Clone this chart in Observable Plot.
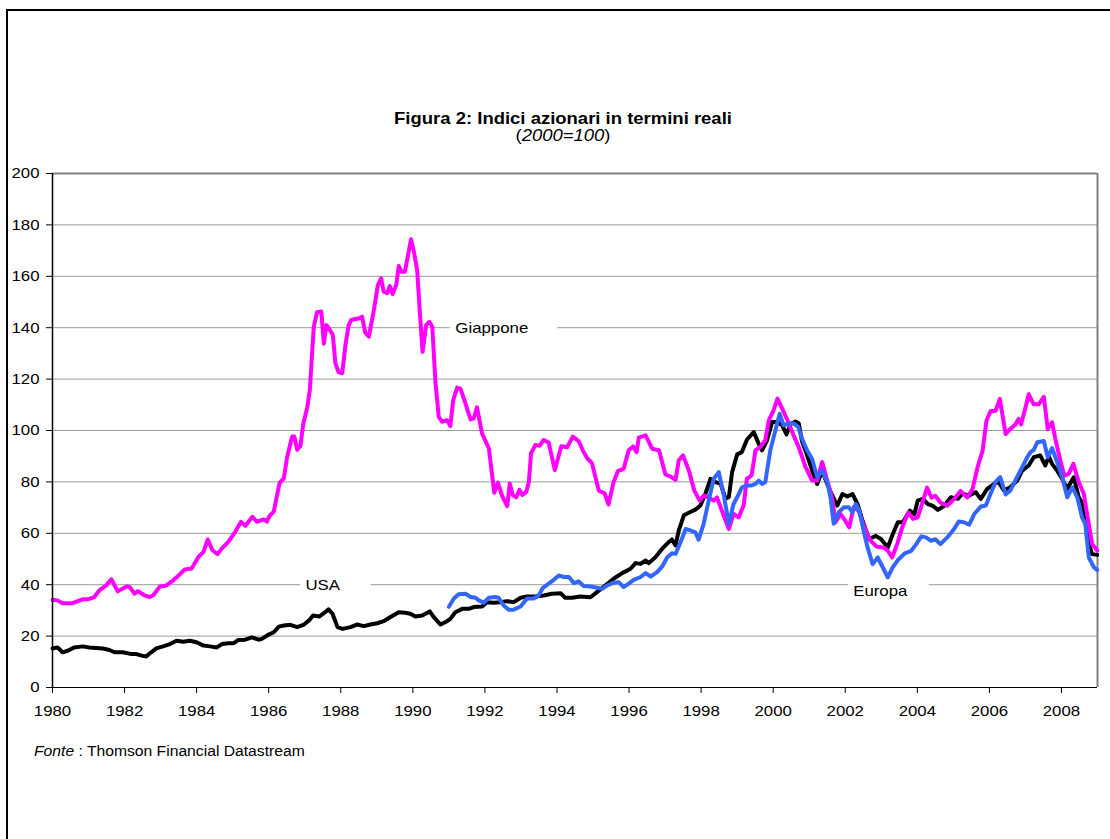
<!DOCTYPE html>
<html>
<head>
<meta charset="utf-8">
<script src="https://cdn.jsdelivr.net/npm/d3@7"></script>
<script src="https://cdn.jsdelivr.net/npm/@observablehq/plot@0.6"></script>
<style>
  html, body { margin: 0; padding: 0; background: #fff; }
  #page { position: relative; width: 1110px; height: 839px; overflow: hidden; font-family: "Liberation Sans", Arial, sans-serif; color: #000; }
  #frame { position: absolute; left: 6px; top: 9px; width: 1200px; height: 900px; border-top: 2px solid #000; border-left: 2px solid #000; }
  #chart { position: absolute; left: 0; top: 0; }
  .title { position: absolute; left: 563px; white-space: nowrap; line-height: 1; transform: translateX(-50%) scaleX(1.12); }
  #t1 { top: 110px; font-size: 16.5px; font-weight: bold; }
  #t2 { top: 127px; font-size: 16.5px; }
  #cap { position: absolute; left: 34px; top: 744px; font-size: 14px; line-height: 1; white-space: nowrap; transform-origin: 0 0; transform: scaleX(1.12); }
</style>
</head>
<body>
<div id="page">
  <div id="frame"></div>
  <div id="chart"></div>
  <div class="title" id="t1">Figura 2: Indici azionari in termini reali</div>
  <div class="title" id="t2">(<i>2000=100</i>)</div>
  <div id="cap"><i>Fonte</i> : Thomson Financial Datastream</div>
</div>
<script>
// ---- data: [year, index] (2000 = 100) ----
const giappone = [[1980.00,34.1],[1980.14,33.9],[1980.28,32.8],[1980.56,32.8],[1980.70,33.6],[1980.84,34.3],[1980.98,34.3],[1981.16,35.2],[1981.30,37.8],[1981.49,39.7],[1981.63,42.1],[1981.81,37.4],[1982.05,39.3],[1982.14,39.1],[1982.28,36.5],[1982.37,37.5],[1982.56,35.8],[1982.70,35.2],[1982.79,35.8],[1982.98,39.3],[1983.16,39.7],[1983.35,41.7],[1983.53,44.0],[1983.67,45.9],[1983.86,46.3],[1984.05,50.8],[1984.19,52.8],[1984.31,57.6],[1984.44,53.4],[1984.58,51.9],[1984.70,54.1],[1984.88,56.7],[1985.07,60.6],[1985.23,64.5],[1985.35,62.9],[1985.55,66.4],[1985.67,64.5],[1985.86,65.4],[1985.95,64.5],[1986.02,66.7],[1986.14,68.4],[1986.30,79.5],[1986.42,81.4],[1986.51,89.6],[1986.65,97.7],[1986.71,97.7],[1986.79,92.5],[1986.88,94.0],[1986.96,102.6],[1987.07,109.0],[1987.14,115.6],[1987.25,140.2],[1987.34,146.0],[1987.46,146.3],[1987.53,133.8],[1987.60,141.0],[1987.67,139.8],[1987.78,137.2],[1987.85,126.2],[1987.94,122.6],[1988.04,122.3],[1988.13,133.3],[1988.22,141.0],[1988.29,143.0],[1988.41,143.4],[1988.50,143.6],[1988.59,144.3],[1988.68,138.1],[1988.78,136.5],[1988.92,146.9],[1989.03,156.6],[1989.12,159.2],[1989.19,154.0],[1989.29,153.4],[1989.36,156.2],[1989.44,153.1],[1989.54,156.6],[1989.61,164.0],[1989.68,161.8],[1989.78,161.8],[1989.84,166.3],[1989.95,174.4],[1990.02,170.2],[1990.12,162.4],[1990.19,146.9],[1990.27,130.6],[1990.37,141.0],[1990.46,142.3],[1990.54,140.3],[1990.63,118.3],[1990.72,105.3],[1990.81,103.4],[1990.95,104.0],[1991.04,101.7],[1991.12,111.8],[1991.23,116.7],[1991.32,116.3],[1991.43,111.8],[1991.60,104.3],[1991.69,104.7],[1991.78,109.0],[1991.92,98.9],[1992.11,93.0],[1992.26,75.8],[1992.36,79.7],[1992.48,74.5],[1992.62,70.6],[1992.69,79.4],[1992.77,74.9],[1992.87,74.0],[1992.96,76.9],[1993.04,74.9],[1993.15,76.2],[1993.22,80.1],[1993.28,91.1],[1993.40,94.4],[1993.52,94.1],[1993.63,96.3],[1993.77,95.3],[1993.94,84.6],[1994.12,93.9],[1994.28,93.5],[1994.44,97.6],[1994.60,95.9],[1994.74,91.6],[1994.85,89.0],[1994.97,87.3],[1995.16,76.6],[1995.32,75.6],[1995.43,71.2],[1995.57,79.9],[1995.69,84.2],[1995.85,85.1],[1995.99,92.3],[1996.11,93.8],[1996.21,91.6],[1996.27,97.2],[1996.46,98.1],[1996.64,92.9],[1996.83,92.3],[1997.01,82.9],[1997.15,82.1],[1997.29,80.8],[1997.38,88.4],[1997.50,90.3],[1997.66,84.4],[1997.81,76.6],[1997.96,72.7],[1998.07,74.7],[1998.21,74.0],[1998.35,72.7],[1998.44,74.0],[1998.61,67.5],[1998.77,61.7],[1998.90,67.5],[1999.04,66.2],[1999.18,70.8],[1999.27,81.2],[1999.40,82.5],[1999.51,92.3],[1999.65,93.6],[1999.78,96.2],[1999.88,104.0],[2000.01,107.8],[2000.12,112.4],[2000.25,108.5],[2000.39,104.2],[2000.57,98.0],[2000.71,93.5],[2000.89,86.0],[2001.08,80.5],[2001.22,80.5],[2001.36,87.7],[2001.50,80.5],[2001.64,73.4],[2001.73,64.3],[2001.87,67.5],[2002.00,64.9],[2002.11,62.3],[2002.23,70.1],[2002.37,68.8],[2002.51,63.0],[2002.70,57.1],[2002.88,54.8],[2003.07,54.5],[2003.18,53.2],[2003.30,50.6],[2003.44,55.8],[2003.58,62.3],[2003.75,68.1],[2003.88,65.6],[2004.01,66.2],[2004.13,71.4],[2004.27,77.8],[2004.39,73.9],[2004.50,74.6],[2004.64,72.0],[2004.83,70.7],[2005.02,73.3],[2005.20,76.5],[2005.39,73.9],[2005.53,77.2],[2005.67,85.6],[2005.81,92.1],[2005.92,103.9],[2006.03,107.5],[2006.17,107.7],[2006.29,112.3],[2006.45,98.6],[2006.58,100.6],[2006.72,102.3],[2006.81,104.5],[2006.88,102.4],[2007.00,108.9],[2007.09,114.1],[2007.23,110.2],[2007.37,110.2],[2007.51,113.1],[2007.62,100.5],[2007.74,103.2],[2007.83,96.7],[2007.97,88.3],[2008.08,82.4],[2008.20,83.1],[2008.33,87.0],[2008.48,79.9],[2008.62,75.4],[2008.71,67.6],[2008.85,55.9],[2008.99,53.3]];

const usa = [[1980.00,15.2],[1980.14,15.6],[1980.28,13.7],[1980.42,14.3],[1980.60,15.6],[1980.84,16.0],[1981.02,15.6],[1981.21,15.4],[1981.40,15.2],[1981.58,14.6],[1981.72,13.7],[1981.95,13.7],[1982.19,13.0],[1982.33,13.0],[1982.47,12.4],[1982.60,12.1],[1982.74,13.7],[1982.88,15.2],[1983.07,16.0],[1983.26,16.9],[1983.44,18.2],[1983.63,17.8],[1983.81,18.2],[1984.00,17.6],[1984.19,16.3],[1984.37,16.0],[1984.56,15.6],[1984.70,16.9],[1984.88,17.2],[1985.02,17.2],[1985.16,18.5],[1985.35,18.6],[1985.53,19.5],[1985.72,18.6],[1985.81,18.9],[1986.00,20.6],[1986.14,21.5],[1986.28,23.7],[1986.42,24.1],[1986.60,24.4],[1986.79,23.5],[1986.98,24.5],[1987.12,26.1],[1987.23,28.0],[1987.40,27.6],[1987.53,28.9],[1987.66,30.4],[1987.77,28.7],[1987.91,23.5],[1988.05,22.8],[1988.27,23.5],[1988.45,24.5],[1988.64,23.9],[1988.82,24.5],[1989.01,25.0],[1989.19,25.8],[1989.38,27.4],[1989.61,29.3],[1989.79,29.1],[1989.93,28.7],[1990.07,27.6],[1990.26,28.0],[1990.47,29.6],[1990.58,27.4],[1990.77,24.5],[1990.95,25.8],[1991.04,26.7],[1991.18,29.3],[1991.37,30.6],[1991.55,30.6],[1991.69,31.3],[1991.92,31.5],[1992.06,33.2],[1992.24,33.0],[1992.43,33.2],[1992.61,33.6],[1992.80,33.2],[1992.99,34.9],[1993.17,35.4],[1993.40,35.4],[1993.63,35.8],[1993.86,36.5],[1994.10,36.7],[1994.23,34.9],[1994.42,34.9],[1994.65,35.4],[1994.93,35.1],[1995.11,37.1],[1995.34,39.7],[1995.57,42.3],[1995.81,44.5],[1996.04,46.2],[1996.18,48.4],[1996.32,48.1],[1996.46,49.4],[1996.55,48.4],[1996.73,50.7],[1996.92,54.0],[1997.10,56.6],[1997.19,57.6],[1997.29,55.3],[1997.38,61.1],[1997.52,67.0],[1997.70,68.3],[1997.84,69.2],[1997.98,70.8],[1998.12,75.4],[1998.26,81.2],[1998.40,79.9],[1998.54,79.3],[1998.68,73.4],[1998.77,74.1],[1998.86,83.8],[1999.00,90.7],[1999.13,91.6],[1999.27,96.4],[1999.46,99.4],[1999.60,94.8],[1999.69,92.3],[1999.83,96.2],[1999.97,103.3],[2000.11,103.3],[2000.25,102.0],[2000.37,98.5],[2000.48,102.5],[2000.62,103.5],[2000.71,102.7],[2000.80,95.8],[2000.94,90.5],[2001.08,84.4],[2001.22,79.2],[2001.36,84.4],[2001.50,79.2],[2001.64,74.7],[2001.78,70.8],[2001.92,75.3],[2002.06,74.3],[2002.20,75.3],[2002.34,71.4],[2002.48,64.9],[2002.66,57.8],[2002.85,59.0],[2002.99,57.8],[2003.18,54.5],[2003.32,59.7],[2003.46,64.3],[2003.60,64.3],[2003.79,68.8],[2003.92,67.5],[2004.01,72.7],[2004.15,73.4],[2004.29,71.4],[2004.43,70.7],[2004.57,69.1],[2004.75,70.7],[2004.93,74.0],[2005.12,73.4],[2005.25,75.3],[2005.44,74.7],[2005.62,76.0],[2005.76,73.4],[2005.94,77.3],[2006.13,79.2],[2006.26,79.9],[2006.40,76.7],[2006.58,77.9],[2006.77,80.5],[2006.91,84.4],[2007.09,86.4],[2007.23,89.6],[2007.41,90.3],[2007.55,86.4],[2007.65,89.9],[2007.74,87.0],[2007.88,84.4],[2008.02,81.2],[2008.16,77.3],[2008.34,81.8],[2008.48,74.0],[2008.57,72.0],[2008.66,64.9],[2008.76,55.8],[2008.85,51.9],[2008.99,51.6]];

const europa = [[1991.00,31.4],[1991.14,34.6],[1991.27,36.3],[1991.46,36.5],[1991.60,35.2],[1991.74,34.9],[1991.83,33.9],[1991.97,33.0],[1992.11,34.9],[1992.29,35.2],[1992.38,34.9],[1992.52,31.9],[1992.66,30.3],[1992.80,30.3],[1992.99,31.5],[1993.17,34.6],[1993.35,34.6],[1993.49,35.8],[1993.61,38.8],[1993.77,40.4],[1993.91,41.9],[1994.05,43.6],[1994.19,43.0],[1994.33,43.0],[1994.47,40.6],[1994.60,41.3],[1994.74,39.5],[1994.93,39.3],[1995.11,38.8],[1995.25,38.4],[1995.39,39.7],[1995.57,40.8],[1995.71,41.0],[1995.85,39.1],[1995.99,40.4],[1996.13,41.9],[1996.32,43.0],[1996.46,44.5],[1996.60,43.2],[1996.78,44.9],[1996.92,47.1],[1997.06,50.7],[1997.19,52.2],[1997.29,52.0],[1997.43,56.5],[1997.57,61.7],[1997.70,61.1],[1997.84,60.4],[1997.93,57.5],[1998.07,63.7],[1998.21,72.7],[1998.35,81.2],[1998.49,83.8],[1998.63,74.7],[1998.77,63.7],[1998.90,71.4],[1999.00,74.0],[1999.13,77.9],[1999.27,78.6],[1999.40,78.6],[1999.51,79.2],[1999.60,80.5],[1999.69,79.2],[1999.78,79.9],[1999.92,92.3],[2000.06,100.0],[2000.18,106.5],[2000.29,102.0],[2000.43,102.8],[2000.57,102.7],[2000.69,101.5],[2000.80,96.8],[2000.94,92.3],[2001.08,88.9],[2001.22,81.9],[2001.36,84.4],[2001.50,79.9],[2001.59,74.0],[2001.68,63.7],[2001.82,68.2],[2001.96,70.1],[2002.10,70.1],[2002.20,68.2],[2002.29,71.4],[2002.39,68.8],[2002.53,59.7],[2002.62,54.5],[2002.76,48.0],[2002.90,50.6],[2003.04,46.8],[2003.18,42.9],[2003.32,46.8],[2003.46,49.6],[2003.65,52.2],[2003.83,53.2],[2003.97,55.8],[2004.11,58.8],[2004.24,58.4],[2004.38,57.1],[2004.50,57.7],[2004.64,55.8],[2004.83,58.4],[2005.02,61.7],[2005.15,64.6],[2005.29,64.3],[2005.44,63.4],[2005.58,67.5],[2005.76,70.4],[2005.90,70.8],[2006.03,75.3],[2006.17,79.9],[2006.30,81.9],[2006.45,75.1],[2006.58,76.6],[2006.77,81.9],[2006.91,85.7],[2007.05,89.6],[2007.14,91.6],[2007.23,92.5],[2007.33,95.4],[2007.51,95.9],[2007.62,89.6],[2007.74,93.2],[2007.88,87.7],[2008.02,81.9],[2008.16,74.0],[2008.30,77.9],[2008.44,74.0],[2008.57,66.2],[2008.66,63.7],[2008.76,50.6],[2008.90,46.8],[2008.99,45.7]];

const xTicks = [1980,1982,1984,1986,1988,1990,1992,1994,1996,1998,2000,2002,2004,2006,2008];
const yTicks = [0,20,40,60,80,100,120,140,160,180,200];

// series labels: anchor (year, value) and the white box behind each label
const seriesLabels = [
  {text: "Giappone", x: 1991.18, y: 140, bx1: 1991.04, bx2: 1994.01, by1: 136.5, by2: 143.5},
  {text: "USA",      x: 1987.02, y: 40,  bx1: 1986.88, bx2: 1988.85, by1: 36.5,  by2: 43.5},
  {text: "Europa",   x: 2002.22, y: 37.3, bx1: 2002.09, bx2: 2004.33, by1: 34,   by2: 41.5}
];

const font = "Liberation Sans, Arial, sans-serif";

const chart = Plot.plot({
  width: 1110,
  height: 839,
  marginLeft: 52,
  marginRight: 13,
  marginTop: 173,
  marginBottom: 152,
  style: {fontFamily: font, color: "#000", background: "transparent", overflow: "visible"},
  x: {domain: [1980, 2009]},
  y: {domain: [0, 200]},
  marks: [
    Plot.ruleY(yTicks.filter(d => d > 0 && d < 200), {stroke: "#9a9a9a", strokeWidth: 1}),
    Plot.ruleY([200], {stroke: "#808080", strokeWidth: 2}),
    Plot.ruleX([2009], {stroke: "#808080", strokeWidth: 2}),
    Plot.rect(seriesLabels, {x1: "bx1", x2: "bx2", y1: "by1", y2: "by2", fill: "white"}),
    Plot.line(usa, {x: d => d[0], y: d => d[1], stroke: "#000", strokeWidth: 4, strokeLinejoin: "round"}),
    Plot.line(giappone, {x: d => d[0], y: d => d[1], stroke: "#ff00ff", strokeWidth: 4, strokeLinejoin: "round"}),
    Plot.line(europa, {x: d => d[0], y: d => d[1], stroke: "#3366ff", strokeWidth: 4, strokeLinejoin: "round"}),
    Plot.axisY({ticks: yTicks, tickSize: 6, tickPadding: 7, fontSize: 15, label: null, stroke: "#000"}),
    Plot.axisX({ticks: xTicks, tickSize: 6, tickPadding: 12, fontSize: 15, label: null, tickFormat: d => String(d), stroke: "#000"}),
    Plot.ruleX([1980], {stroke: "#000", strokeWidth: 1.5}),
    Plot.ruleY([0], {stroke: "#000", strokeWidth: 1}),
    Plot.text(seriesLabels, {x: "x", y: "y", text: "text", textAnchor: "start", fontSize: 15, fill: "#000"})
  ]
});

document.getElementById("chart").appendChild(chart);

// the reference's lettering is horizontally stretched: widen each SVG text by 12%
chart.querySelectorAll("text").forEach(t => {
  const w = t.getComputedTextLength();
  if (w > 0) {
    t.setAttribute("textLength", (w * 1.12).toFixed(2));
    t.setAttribute("lengthAdjust", "spacingAndGlyphs");
  }
});
</script>
</body>
</html>
